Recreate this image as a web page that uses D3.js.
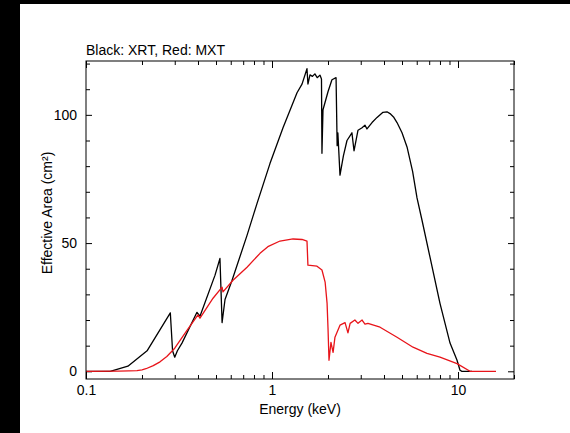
<!DOCTYPE html>
<html>
<head>
<meta charset="utf-8">
<script src="https://cdn.jsdelivr.net/npm/d3@7"></script>
<style>
  body { margin: 0; background: #fff; }
  text { font-family: "Liberation Sans", Arial, Helvetica, sans-serif; }
</style>
</head>
<body>
<svg id="chart" width="570" height="433"></svg>
<script>
// XRT effective area (black), energy in keV / area in cm^2
const xrtEnergy = [0.1, 0.135, 0.168, 0.213, 0.284, 0.292, 0.300, 0.31, 0.328, 0.395, 0.41, 0.494, 0.525, 0.539,
  0.559, 0.61, 0.734, 0.831, 0.975, 1.146, 1.363, 1.45, 1.542, 1.56, 1.6, 1.65, 1.7, 1.75, 1.81, 1.845, 1.856, 1.88,
  2.0, 2.1, 2.21, 2.24, 2.26, 2.32, 2.42, 2.53, 2.69, 2.76, 2.9, 3.05, 3.16, 3.24, 3.45, 3.67, 3.95, 4.15, 4.31, 4.5, 4.7,
  5.0, 5.32, 5.7, 6.02, 6.4, 7.07, 8.0, 9.06, 9.88, 10.25, 10.5, 11.9];
const xrtArea = [0, 0, 2, 8, 22.8, 8, 5.5, 8, 11, 23, 21.5, 37.5, 44, 19,
  28, 35.5, 53, 65.5, 81, 95, 108.6, 112, 118, 112, 115.6, 115, 116, 114.5, 115.5, 114, 85, 102,
  109, 113.7, 114.5, 88, 93, 76.5, 84, 90, 93, 86, 94, 95, 96, 94.5, 97, 99, 101, 101.2, 100.5, 99.2, 97,
  93, 87.5, 78, 67.6, 59, 44.5, 26.5, 11, 4.3, 0.4, 0, 0];

// MXT effective area (red)
const mxtEnergy = [0.1, 0.15, 0.17, 0.188, 0.2, 0.21, 0.23, 0.25, 0.272, 0.30, 0.349, 0.40, 0.41, 0.482, 0.539, 0.545,
  0.617, 0.734, 0.862, 0.95, 1.104, 1.297, 1.45, 1.542, 1.56, 1.745, 1.856, 1.93, 1.977, 2.0, 2.025, 2.075, 2.13, 2.18,
  2.32, 2.47, 2.56, 2.63, 2.79, 2.9, 3.05, 3.16, 3.28, 3.81, 4.7, 5.73, 6.81, 8.0, 9.88, 11.6, 16.0];
const mxtArea = [0, 0.05, 0.15, 0.3, 0.6, 1, 2.2, 3.7, 5.8, 9, 16, 22, 20.7, 28.5, 32.8, 31,
  35.5, 40.6, 46, 48.6, 50.8, 51.6, 51.4, 50.8, 41.4, 41, 39.5, 34.8, 26.6, 17, 4.3, 11.3, 7.4, 13.3,
  18, 19, 15, 18.7, 20, 18.7, 20, 18.4, 18.7, 17.2, 13.3, 9.4, 7, 5.5, 3, 0, 0];

const xMajor = [0.1, 1, 10];
const yMajor = [0, 50, 100];
const yMinor = [10, 20, 30, 40, 60, 70, 80, 90, 110, 120];

const svg = d3.select('#chart');
const plotL = 86, plotR = 514, plotT = 61, plotB = 379;

// dark strips along the left and top edges of the screenshot
svg.append('rect').attr('x', 0).attr('y', 0).attr('width', 570).attr('height', 4).attr('fill', '#000');
svg.append('rect').attr('x', 0).attr('y', 0).attr('width', 20).attr('height', 433).attr('fill', '#000');

const x = d3.scaleLog().domain([0.1, 20]).range([plotL, plotR]);
const y = d3.scaleLinear().domain([-3, 121]).range([plotB, plotT]);

const xMinor = [];
[0.1, 1, 10].forEach(d => d3.range(2, 10).forEach(k => { if (d * k <= 20) xMinor.push(d * k); }));

const axisStyle = g => {
  g.select('.domain').remove();
  g.selectAll('line').attr('stroke', '#000').attr('stroke-width', 1);
  g.selectAll('text').attr('font-size', 14).attr('fill', '#000');
};

// bottom and top
svg.append('g').attr('transform', `translate(0,${plotB})`)
  .call(d3.axisBottom(x).tickValues(xMajor).tickSize(-7).tickPadding(6).tickFormat(d => d))
  .call(axisStyle);
svg.append('g').attr('transform', `translate(0,${plotB})`)
  .call(d3.axisBottom(x).tickValues(xMinor).tickSize(-4).tickFormat(''))
  .call(axisStyle);
svg.append('g').attr('transform', `translate(0,${plotT})`)
  .call(d3.axisTop(x).tickValues(xMajor).tickSize(-7).tickFormat(''))
  .call(axisStyle);
svg.append('g').attr('transform', `translate(0,${plotT})`)
  .call(d3.axisTop(x).tickValues(xMinor).tickSize(-4).tickFormat(''))
  .call(axisStyle);

// left and right
svg.append('g').attr('transform', `translate(${plotL},0)`)
  .call(d3.axisLeft(y).tickValues(yMajor).tickSize(-6).tickPadding(9))
  .call(axisStyle);
svg.append('g').attr('transform', `translate(${plotL},0)`)
  .call(d3.axisLeft(y).tickValues(yMinor).tickSize(-4).tickFormat(''))
  .call(axisStyle);
svg.append('g').attr('transform', `translate(${plotR},0)`)
  .call(d3.axisRight(y).tickValues(yMajor).tickSize(-6).tickFormat(''))
  .call(axisStyle);
svg.append('g').attr('transform', `translate(${plotR},0)`)
  .call(d3.axisRight(y).tickValues(yMinor).tickSize(-4).tickFormat(''))
  .call(axisStyle);

const line = d3.line().x(d => x(d[0])).y(d => y(d[1]));

svg.append('path')
  .datum(d3.zip(xrtEnergy, xrtArea))
  .attr('d', line)
  .attr('fill', 'none')
  .attr('stroke', '#000')
  .attr('stroke-width', 1.3)
  .attr('stroke-linejoin', 'round');

svg.append('path')
  .datum(d3.zip(mxtEnergy, mxtArea))
  .attr('d', line)
  .attr('fill', 'none')
  .attr('stroke', '#e8141a')
  .attr('stroke-width', 1.3)
  .attr('stroke-linejoin', 'round');

// frame
svg.append('rect')
  .attr('x', plotL).attr('y', plotT)
  .attr('width', plotR - plotL).attr('height', plotB - plotT)
  .attr('fill', 'none').attr('stroke', '#000').attr('stroke-width', 1);

svg.append('text')
  .attr('x', plotL).attr('y', 55)
  .attr('font-size', 14)
  .text('Black: XRT, Red: MXT');

svg.append('text')
  .attr('x', (plotL + plotR) / 2).attr('y', 414)
  .attr('text-anchor', 'middle')
  .attr('font-size', 14)
  .text('Energy (keV)');

svg.append('text')
  .attr('transform', 'translate(52,213) rotate(-90)')
  .attr('text-anchor', 'middle')
  .attr('font-size', 14)
  .text('Effective Area (cm²)');
</script>
</body>
</html>
